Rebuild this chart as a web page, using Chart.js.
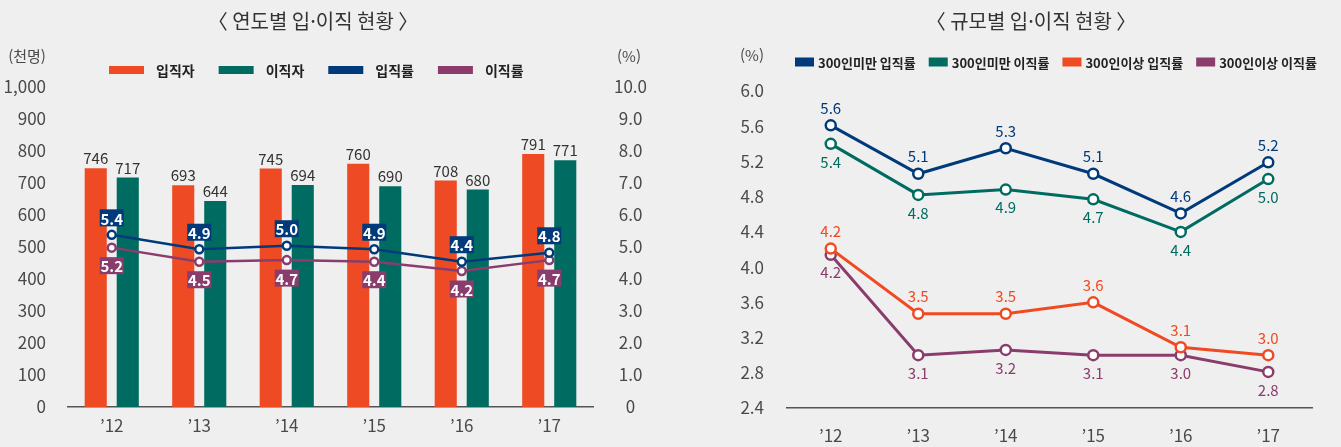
<!DOCTYPE html>
<html lang="ko">
<head>
<meta charset="utf-8">
<title>입·이직 현황</title>
<script src="https://cdn.jsdelivr.net/npm/chart.js@4.4.1/dist/chart.umd.min.js"></script>
<style>
  html, body { margin: 0; padding: 0; background: #efefef; }
  .wrap { position: relative; width: 1341px; height: 447px; }
  .pane { position: absolute; top: 0; height: 447px; }
  #pane-ano { left: 0; width: 670px; }
  #pane-porte { left: 670px; width: 671px; }
</style>
</head>
<body>
<div class="wrap">
  <div class="pane" id="pane-ano"><canvas id="chart-ano"></canvas></div>
  <div class="pane" id="pane-porte"><canvas id="chart-porte"></canvas></div>
</div>
<script>
var ANOS = ['’12', '’13', '’14', '’15', '’16', '’17'];

// 연도별 입·이직 (천명 / %)
var INGRESSOS = [746, 693, 745, 760, 708, 791];
var SAIDAS = [717, 644, 694, 690, 680, 771];
var TAXA_ENTRADA = [5.38, 4.93, 5.04, 4.93, 4.54, 4.82];
var TAXA_ENTRADA_TXT = ['5.4', '4.9', '5.0', '4.9', '4.4', '4.8'];
var TAXA_SAIDA = [4.98, 4.54, 4.59, 4.54, 4.25, 4.59];
var TAXA_SAIDA_TXT = ['5.2', '4.5', '4.7', '4.4', '4.2', '4.7'];

// 규모별 입·이직률 (%)
var PEQ_ENTRADA = [5.61, 5.06, 5.35, 5.06, 4.61, 5.19];
var PEQ_ENTRADA_TXT = ['5.6', '5.1', '5.3', '5.1', '4.6', '5.2'];
var PEQ_SAIDA = [5.40, 4.82, 4.88, 4.77, 4.40, 5.00];
var PEQ_SAIDA_TXT = ['5.4', '4.8', '4.9', '4.7', '4.4', '5.0'];
var GRD_ENTRADA = [4.21, 3.47, 3.47, 3.60, 3.09, 3.00];
var GRD_ENTRADA_TXT = ['4.2', '3.5', '3.5', '3.6', '3.1', '3.0'];
var GRD_SAIDA = [4.14, 3.00, 3.06, 3.00, 3.00, 2.81];
var GRD_SAIDA_TXT = ['4.2', '3.1', '3.2', '3.1', '3.0', '2.8'];

var LARANJA = '#ee4a24', VERDE = '#006c61', AZUL = '#003a7a', ROXO = '#8a3d6c';
var TICK = '#4a4a4a';
var NUM = "'Liberation Sans Narrow', 'Noto Sans CJK KR', sans-serif";
var KR = "'Noto Sans CJK KR', sans-serif";

// título, unidades e legenda desenhados à mão
var decor = {
  id: 'decor',
  afterDraw: function (chart, args, o) {
    var ctx = chart.ctx;
    ctx.save();
    ctx.textBaseline = 'middle';
    ctx.textAlign = 'center';
    ctx.fillStyle = '#333';
    ctx.font = '20px ' + KR;
    ctx.fillText(o.titulo, o.tituloX, 21);
    ctx.fillStyle = TICK;
    ctx.font = '15px ' + NUM;
    o.unidades.forEach(function (u) { ctx.fillText(u.texto, u.x, u.y); });
    var lg = o.legenda, x = lg.x;
    ctx.textAlign = 'left';
    ctx.font = lg.fonte;
    chart.data.datasets.forEach(function (ds) {
      ctx.fillStyle = ds.backgroundColor;
      ctx.fillRect(x, lg.y - lg.bh / 2, lg.bw, lg.bh);
      ctx.fillStyle = '#222';
      ctx.fillText(ds.label, x + lg.bw + lg.gap, lg.y + 1);
      x += lg.bw + lg.gap + ctx.measureText(ds.label).width + lg.entre;
    });
    ctx.restore();
  }
};

// rótulos de valor
var rotulos = {
  id: 'rotulos',
  afterDatasetsDraw: function (chart) {
    var ctx = chart.ctx;
    ctx.save();
    ctx.textAlign = 'center';
    ctx.textBaseline = 'middle';
    chart.data.datasets.forEach(function (ds, i) {
      if (!ds.modo) return;
      chart.getDatasetMeta(i).data.forEach(function (el, j) {
        var txt = ds.textos ? ds.textos[j] : String(ds.data[j]);
        if (ds.modo === 'barra') {
          ctx.fillStyle = '#333';
          ctx.font = '15px ' + NUM;
          ctx.textBaseline = 'bottom';
          ctx.fillText(txt, el.x, el.y - 2);
          ctx.textBaseline = 'middle';
        } else if (ds.modo === 'caixaCima' || ds.modo === 'caixaBaixo') {
          var cy = ds.modo === 'caixaCima' ? el.y - 17 : el.y + 18;
          ctx.fillStyle = ds.borderColor;
          ctx.fillRect(el.x - 12, cy - 8.5, 24, 17);
          ctx.fillStyle = '#fff';
          ctx.font = 'bold 15px ' + NUM;
          ctx.fillText(txt, el.x, cy + 1);
        } else {
          var ty = ds.modo === 'cima' ? el.y - 17 : el.y + 18;
          ctx.fillStyle = ds.borderColor;
          ctx.font = '15px ' + NUM;
          ctx.fillText(txt, el.x, ty);
        }
      });
    });
    ctx.restore();
  }
};

function linha(label, dados, textos, cor, modo, extra) {
  var ds = {
    type: 'line', label: label, data: dados, textos: textos, modo: modo,
    borderColor: cor, backgroundColor: cor,
    pointBackgroundColor: '#fff', pointBorderColor: cor,
    borderWidth: 2.5, pointBorderWidth: 2.5, pointRadius: 4, tension: 0
  };
  for (var k in extra) ds[k] = extra[k];
  return ds;
}

new Chart(document.getElementById('chart-ano'), {
  type: 'bar',
  data: {
    labels: ANOS,
    datasets: [
      { label: '입직자', data: INGRESSOS, backgroundColor: LARANJA, yAxisID: 'y', order: 2, modo: 'barra',
        barPercentage: 0.69, categoryPercentage: 0.732 },
      { label: '이직자', data: SAIDAS, backgroundColor: VERDE, yAxisID: 'y', order: 2, modo: 'barra',
        barPercentage: 0.69, categoryPercentage: 0.732 },
      linha('입직률', TAXA_ENTRADA, TAXA_ENTRADA_TXT, AZUL, 'caixaCima', { yAxisID: 'y1', order: 0 }),
      linha('이직률', TAXA_SAIDA, TAXA_SAIDA_TXT, ROXO, 'caixaBaixo', { yAxisID: 'y1', order: 1 })
    ]
  },
  options: {
    responsive: true, maintainAspectRatio: false, animation: false,
    layout: { padding: { top: 87, left: 0, right: 0, bottom: 0 } },
    plugins: {
      legend: { display: false }, tooltip: { enabled: false },
      decor: {
        titulo: '〈 연도별 입·이직 현황 〉', tituloX: 313,
        unidades: [{ texto: '(천명)', x: 27, y: 56 }, { texto: '(%)', x: 629, y: 56 }],
        legenda: { x: 109, y: 70, bw: 35, bh: 8, gap: 12, entre: 24, fonte: 'bold 14px ' + KR }
      }
    },
    scales: {
      x: {
        grid: { display: false, drawTicks: false, tickLength: 0 },
        border: { display: true, color: '#555', width: 1.5 },
        ticks: { padding: 8, color: TICK, font: { family: NUM, size: 17 } },
        afterFit: function (s) { s.height = 40; }
      },
      y: {
        position: 'left', min: 0, max: 1000,
        grid: { display: false, drawTicks: false, tickLength: 0 },
        border: { display: false },
        ticks: { stepSize: 100, padding: 22, color: TICK, font: { family: NUM, size: 17 },
          callback: function (v) { return v.toLocaleString('en-US'); } },
        afterFit: function (s) { s.width = 68; }
      },
      y1: {
        position: 'right', min: 0, max: 10,
        grid: { display: false, drawTicks: false, tickLength: 0 },
        border: { display: false },
        ticks: { stepSize: 1, padding: 21, crossAlign: 'center', color: TICK, font: { family: NUM, size: 17 },
          callback: function (v) { return v === 0 ? '0' : v.toFixed(1); } },
        afterFit: function (s) { s.width = 77; }
      }
    }
  },
  plugins: [decor, rotulos]
});

new Chart(document.getElementById('chart-porte'), {
  type: 'line',
  data: {
    labels: ANOS,
    datasets: [
      linha('300인미만 입직률', PEQ_ENTRADA, PEQ_ENTRADA_TXT, AZUL, 'cima', { borderWidth: 3, pointRadius: 5 }),
      linha('300인미만 이직률', PEQ_SAIDA, PEQ_SAIDA_TXT, VERDE, 'baixo', { borderWidth: 3, pointRadius: 5 }),
      linha('300인이상 입직률', GRD_ENTRADA, GRD_ENTRADA_TXT, '#f04a22', 'cima', { borderWidth: 3, pointRadius: 5 }),
      linha('300인이상 이직률', GRD_SAIDA, GRD_SAIDA_TXT, ROXO, 'baixo', { borderWidth: 3, pointRadius: 5 })
    ]
  },
  options: {
    responsive: true, maintainAspectRatio: false, animation: false,
    layout: { padding: { top: 91, left: 0, right: 29, bottom: 0 } },
    plugins: {
      legend: { display: false }, tooltip: { enabled: false },
      decor: {
        titulo: '〈 규모별 입·이직 현황 〉', tituloX: 361,
        unidades: [{ texto: '(%)', x: 82, y: 55 }],
        legenda: { x: 125, y: 62, bw: 19, bh: 9, gap: 4, entre: 13, fonte: 'bold 13px ' + NUM }
      }
    },
    scales: {
      x: {
        offset: true,
        grid: { display: false, drawTicks: false, tickLength: 0 },
        border: { display: true, color: '#555', width: 1.5 },
        ticks: { padding: 17, color: TICK, font: { family: NUM, size: 17 } },
        afterFit: function (s) { s.height = 39; }
      },
      y: {
        min: 2.4, max: 6.0,
        grid: { display: false, drawTicks: false, tickLength: 0 },
        border: { display: false },
        ticks: { stepSize: 0.4, padding: 23, color: TICK, font: { family: NUM, size: 17 },
          callback: function (v) { return v.toFixed(1); } },
        afterFit: function (s) { s.width = 117; }
      }
    }
  },
  plugins: [decor, rotulos]
});
</script>
</body>
</html>
